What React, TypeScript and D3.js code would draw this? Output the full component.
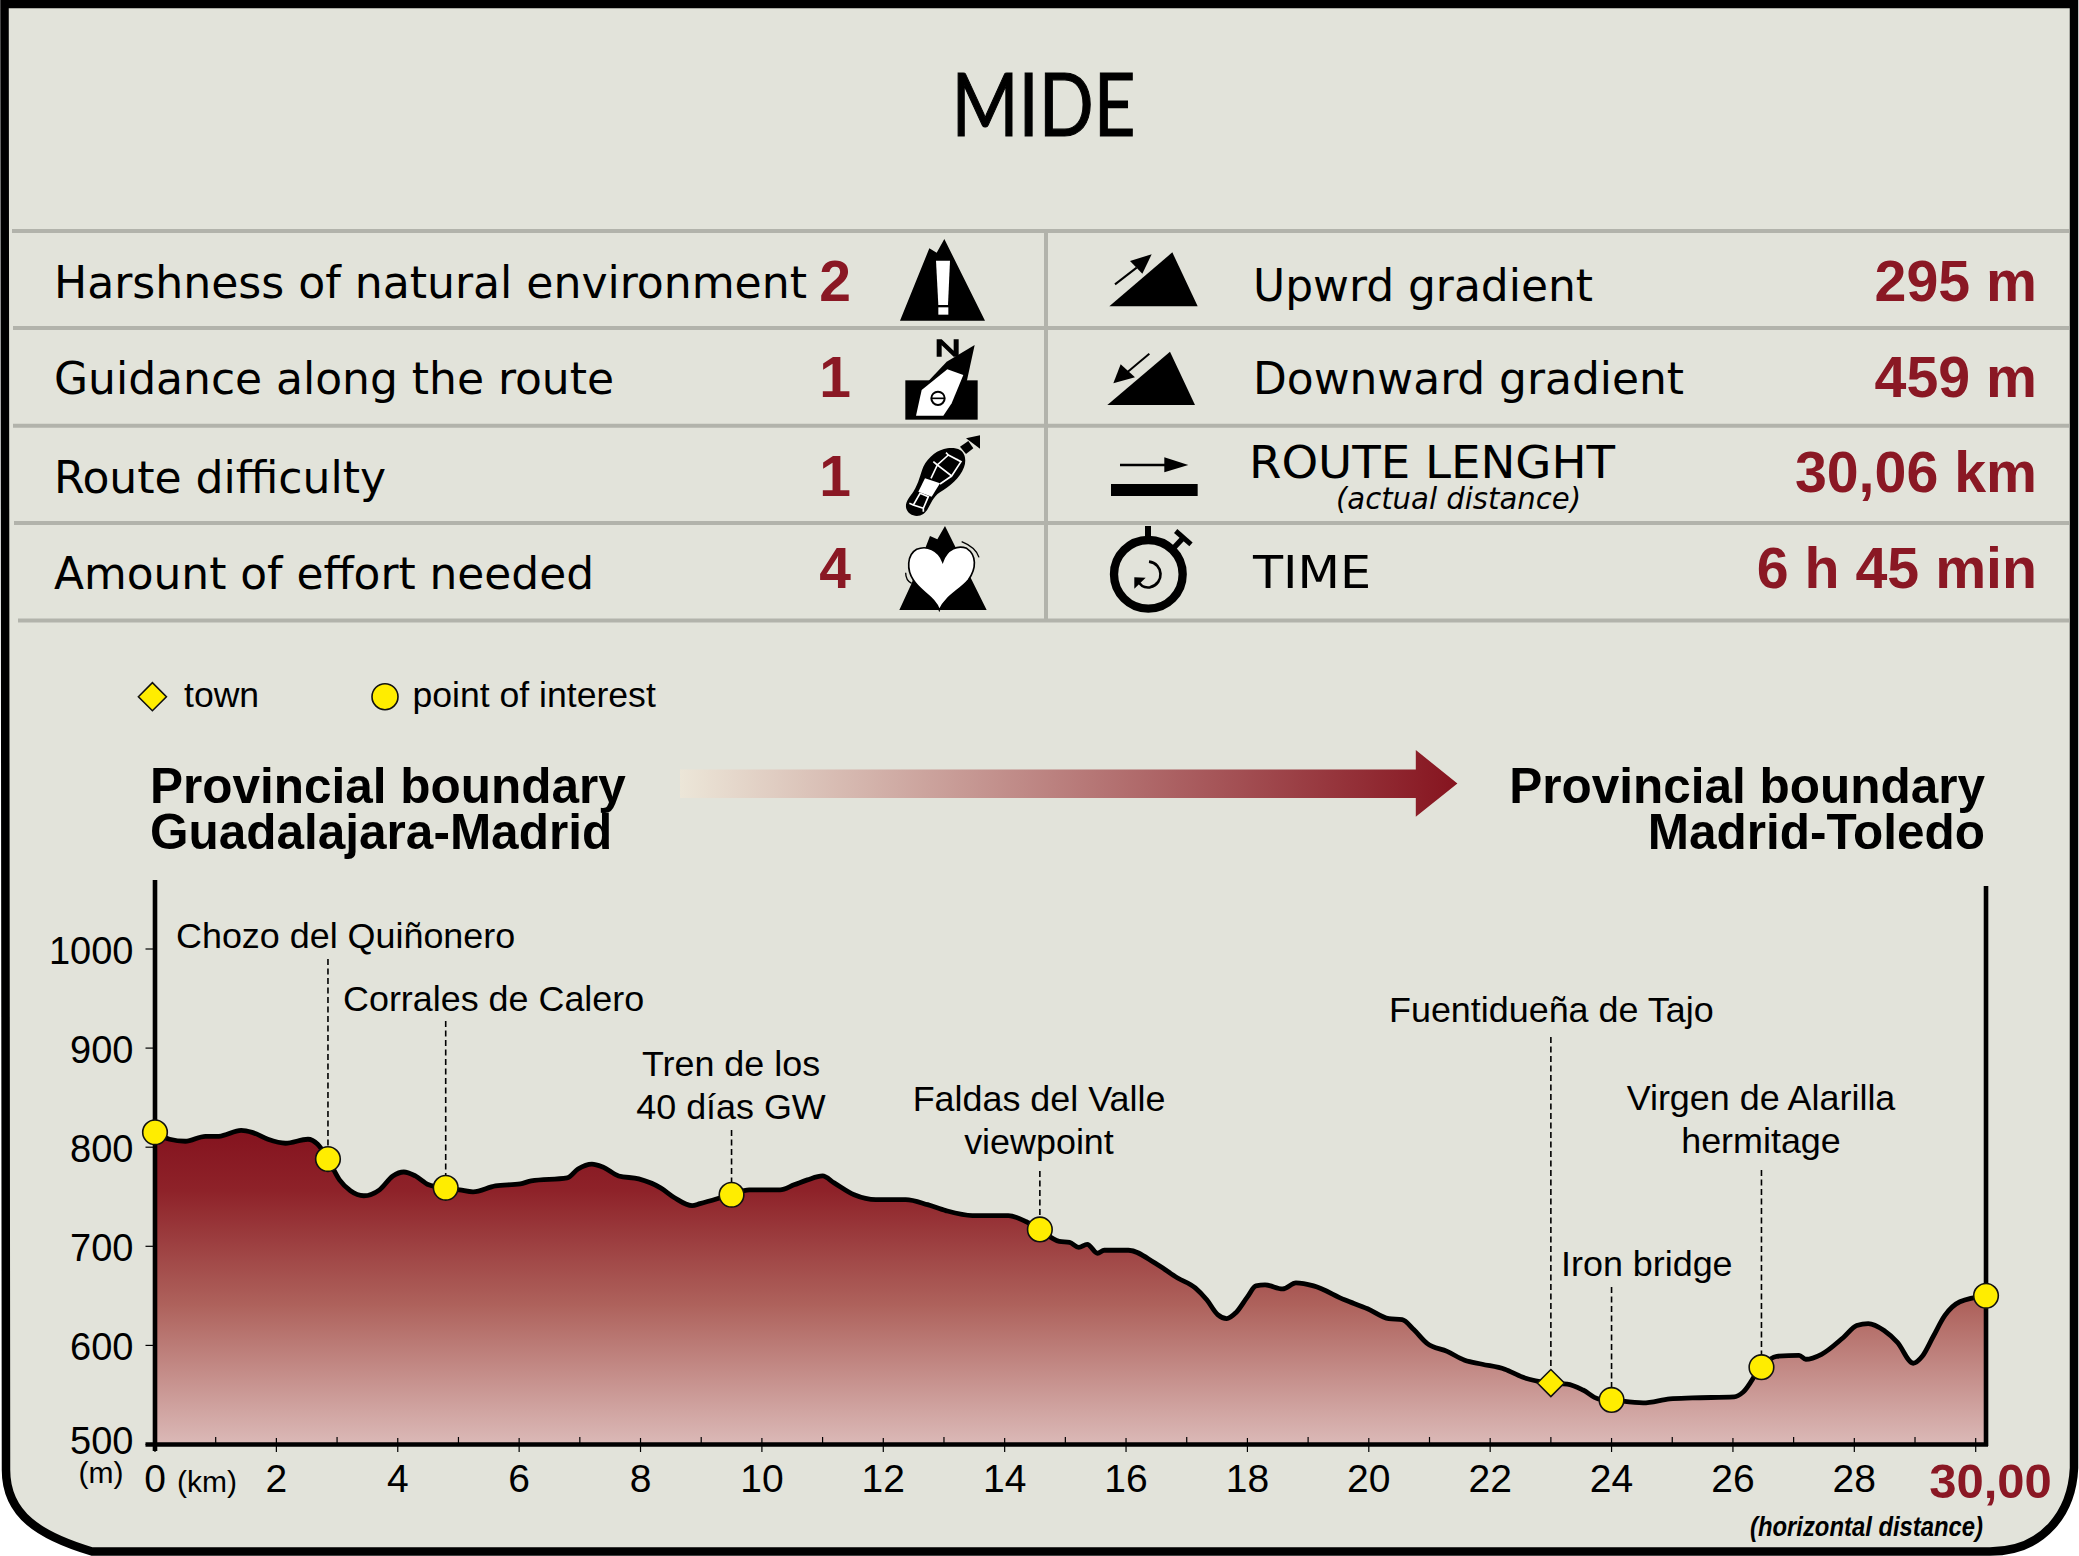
import React from 'react';
import * as d3 from 'd3';

const WIDTH = 2079;
const HEIGHT = 1556;

// Elevation profile
const profileKm = [0, 0.24, 0.5, 0.83, 1.05, 1.42, 1.6, 1.86, 2.15, 2.52, 2.68, 2.85, 3.04, 3.22, 3.44, 3.7, 3.92, 4.1, 4.29, 4.51, 4.78, 5.02, 5.24, 5.61, 6.02, 6.2, 6.79, 6.97, 7.2, 7.38, 7.64, 7.97, 8.33, 8.56, 8.85, 8.98, 9.49, 9.79, 10.3, 10.53, 10.75, 11.0, 11.19, 11.52, 11.88, 12.37, 12.73, 13.03, 13.47, 14.06, 14.35, 14.57, 14.9, 15.07, 15.22, 15.36, 15.53, 15.64, 16.04, 16.48, 16.85, 17.14, 17.33, 17.51, 17.66, 17.81, 18.0, 18.14, 18.29, 18.58, 18.8, 19.09, 19.6, 19.98, 20.33, 20.55, 20.74, 20.96, 21.29, 21.58, 21.87, 22.24, 22.53, 23.0, 23.27, 23.53, 23.78, 23.99, 24.52, 24.96, 25.33, 26.02, 26.17, 26.46, 26.72, 27.09, 27.2, 27.46, 27.82, 28.04, 28.23, 28.49, 28.71, 28.97, 29.12, 29.3, 29.49, 29.74, 30.17];
const profileElev = [815, 808, 806, 811, 811, 817, 815, 808, 804, 808, 803, 788, 767, 756, 751, 757, 771, 775, 771, 762, 759, 757, 755, 761, 763, 766, 769, 778, 783, 780, 771, 768, 759, 749, 741, 743, 752, 757, 757, 762, 767, 771, 764, 752, 747, 747, 742, 736, 731, 731, 725, 717, 705, 704, 699, 702, 693, 696, 696, 683, 668, 658, 646, 631, 627, 633, 649, 660, 661, 657, 663, 660, 646, 637, 627, 626, 616, 602, 594, 585, 581, 576, 568, 562, 561, 555, 546, 545, 542, 546, 547, 548, 553, 578, 589, 590, 586, 591, 608, 620, 622, 615, 603, 582, 589, 609, 630, 644, 650];

const markerKm = [0, 2.85, 4.79, 9.5, 14.58, 23, 24, 26.47, 30.17];
const markerElev = [815, 788, 759, 752, 717, 562, 545, 578, 650];
const markerType = ['poi', 'poi', 'poi', 'poi', 'poi', 'town', 'poi', 'poi', 'poi'];

const yTickValues = [500, 600, 700, 800, 900, 1000];
const xLabelValues = [0, 2, 4, 6, 8, 10, 12, 14, 16, 18, 20, 22, 24, 26, 28];
const xMinorValues = [1, 3, 5, 7, 9, 11, 13, 15, 17, 19, 21, 23, 25, 27, 29];
const xMajorValues = [0, 2, 4, 6, 8, 10, 12, 14, 16, 18, 20, 22, 24, 26, 28, 30];

const leftLabels = ['Harshness of natural environment', 'Guidance along the route', 'Route difficulty', 'Amount of effort needed'];
const leftScores = ['2', '1', '1', '4'];
const rightLabels = ['Upwrd gradient', 'Downward gradient', 'ROUTE LENGHT', 'TIME'];
const rightValues = ['295 m', '459 m', '30,06 km', '6 h 45 min'];

const RED = '#8a1824';
const BG = '#e2e3da';
const YELLOW = '#ffed00';
const RULE = '#b2b3ab';
const ARIAL = '"Liberation Sans", Arial, sans-serif';
const TAHOMA = '"DejaVu Sans Condensed", "DejaVu Sans", sans-serif';

const x = d3.scaleLinear().domain([0, 30]).range([155, 1975.7]);
const y = d3.scaleLinear().domain([500, 1000]).range([1444.5, 949]);

const profile = profileKm.map((km, i) => [km, profileElev[i]] as [number, number]);
const line = d3.line<[number, number]>().x(d => x(d[0])).y(d => y(d[1])).curve(d3.curveMonotoneX);
const area = d3.area<[number, number]>().x(d => x(d[0])).y0(y(500)).y1(d => y(d[1])).curve(d3.curveMonotoneX);

// Callouts: text lines, anchor, and top of the dashed leader
const callouts = [
  { lines: ['Chozo del Quiñonero'], tx: 176, ty: 948, anchor: 'start', km: 2.85, elev: 788, top: 959 },
  { lines: ['Corrales de Calero'], tx: 343, ty: 1011, anchor: 'start', km: 4.79, elev: 759, top: 1021 },
  { lines: ['Tren de los', '40 días GW'], tx: 731, ty: 1076, anchor: 'middle', km: 9.5, elev: 752, top: 1130 },
  { lines: ['Faldas del Valle', 'viewpoint'], tx: 1039, ty: 1111, anchor: 'middle', km: 14.58, elev: 717, top: 1171 },
  { lines: ['Fuentidueña de Tajo'], tx: 1389, ty: 1022, anchor: 'start', km: 23, elev: 562, top: 1037 },
  { lines: ['Iron bridge'], tx: 1561, ty: 1276, anchor: 'start', km: 24, elev: 545, top: 1287 },
  { lines: ['Virgen de Alarilla', 'hermitage'], tx: 1761, ty: 1110, anchor: 'middle', km: 26.47, elev: 578, top: 1170 },
];

const leftRows = [
  { base: 298.3, len: 753, score: 301 },
  { base: 394.3, len: 560, score: 397 },
  { base: 493.3, len: 332, score: 496 },
  { base: 589.3, len: 540, score: 588 },
];
const rightRows = [
  { base: 301, len: 340, val: 301, lx: 1253 },
  { base: 394.3, len: 431, val: 397, lx: 1253 },
  { base: 478.3, len: 366, val: 492, lx: 1249 },
  { base: 588.3, len: 118, val: 588, lx: 1253 },
];
const ruleY = [231, 328, 425.7, 523, 620.4];
const ruleX0 = [12, 13, 13, 14, 18];

const Diamond = ({ cx, cy, size }: { cx: number; cy: number; size: number }) => (
  <path d={`M${cx - size},${cy}L${cx},${cy - size}L${cx + size},${cy}L${cx},${cy + size}Z`} fill={YELLOW} stroke="#111" strokeWidth={1.6} />
);

const App: React.FC = () => {
  return (
    <svg width={WIDTH} height={HEIGHT} viewBox={`0 0 ${WIDTH} ${HEIGHT}`} style={{ position: 'absolute', left: 0, top: 0, display: 'block' }}>
      <defs>
        <linearGradient id="relief" gradientUnits="userSpaceOnUse" x1={0} y1={1135} x2={0} y2={1444}>
          <stop offset="0%" stopColor="#85141f" />
          <stop offset="18%" stopColor="#8e2229" />
          <stop offset="55%" stopColor="#ae625c" />
          <stop offset="100%" stopColor="#dbb9b7" />
        </linearGradient>
        <linearGradient id="arrowFade" gradientUnits="userSpaceOnUse" x1={680} y1={0} x2={1457} y2={0}>
          <stop offset="0%" stopColor="#ece6d8" />
          <stop offset="100%" stopColor="#86141f" />
        </linearGradient>
      </defs>

      <rect width={WIDTH} height={HEIGHT} fill="#fff" />
      <path
        d="M4.5,4H2074V1468C2072,1512 2044,1551.5 1990,1551.5H92C40,1536 6,1515 6,1470Z"
        fill={BG}
        stroke="#000"
        strokeWidth={8.5}
      />

      <text x={1043.5} y={136} textAnchor="middle" fontFamily="Lato, sans-serif" fontSize={88} textLength={184} lengthAdjust="spacingAndGlyphs" fill="#000" stroke="#000" strokeWidth={1.2}>MIDE</text>

      {/* table rules */}
      {ruleY.map((ry, i) => (
        <line key={ry} x1={ruleX0[i]} x2={2069} y1={ry} y2={ry} stroke={RULE} strokeWidth={4} />
      ))}
      <line x1={1046} x2={1046} y1={231} y2={620} stroke={RULE} strokeWidth={4} />

      {leftLabels.map((t, i) => (
        <text key={t} x={54} y={leftRows[i].base} fontFamily={TAHOMA} fontSize={44} textLength={leftRows[i].len} lengthAdjust="spacingAndGlyphs" fill="#000">{t}</text>
      ))}
      {leftScores.map((t, i) => (
        <text key={i} x={835} y={leftRows[i].score} textAnchor="middle" fontFamily={ARIAL} fontWeight="bold" fontSize={57} fill={RED}>{t}</text>
      ))}
      {rightLabels.map((t, i) => (
        <text key={t} x={rightRows[i].lx} y={rightRows[i].base} fontFamily={TAHOMA} fontSize={44} textLength={rightRows[i].len} lengthAdjust="spacingAndGlyphs" fill="#000">{t}</text>
      ))}
      <text x={1336} y={509} fontFamily={TAHOMA} fontStyle="italic" fontSize={30} textLength={245} lengthAdjust="spacingAndGlyphs" fill="#000">(actual distance)</text>
      {rightValues.map((t, i) => (
        <text key={t} x={2037} y={rightRows[i].val} textAnchor="end" fontFamily={ARIAL} fontWeight="bold" fontSize={57.3} fill={RED}>{t}</text>
      ))}

      {/* icons, left column */}
      <g transform="translate(860,230) scale(0.33333)">
        <path d="M120,272L208,55L230,68L253,27L375,272Z" fill="#000" />
        <path d="M228,92H270L264,225H235Z" fill="#fff" />
        <rect x={235} y={232} width={30} height={22} fill="#fff" />

        <rect x={136} y={451} width={217} height={118} fill="#000" />
        <path d="M344,345L260,395L180,480L320,455Z" fill="#000" />
        <path d="M262,418L310,435L275,520L250,557H168L185,480Z" fill="#fff" />
        <circle cx={234} cy={505} r={20} fill="none" stroke="#000" strokeWidth={6} />
        <path d="M214,505H254" stroke="#000" strokeWidth={5} />
        <path d="M230,380V328H245L281,362V328H296V380H281L245,346V380Z" fill="#000" />

        <path d="M262,655C235,658 205,680 190,710C180,735 178,755 160,785C148,802 136,815 138,832C142,855 170,865 190,852C210,838 212,805 240,787C268,770 300,745 312,712C320,690 315,668 300,660C290,654 275,653 262,655Z" fill="#000" />
        <path d="M195,745L240,760L215,800L175,785Z" fill="#fff" />
        <path d="M265,675L232,705L275,738L303,695ZM232,705L213,745M275,738L240,762M265,675L258,668M303,695L290,688M232,705L220,695M180,790L160,825L190,835L205,800ZM160,825L148,820M190,835L190,845" fill="none" stroke="#fff" strokeWidth={5} />
        <path d="M300,650L325,633L340,655L318,672Z" fill="#000" />
        <path d="M318,625L360,616V656Z" fill="#000" />

        <path d="M118,1140L155,1060L210,918L232,928L255,888L380,1140Z" fill="#000" />
        <path d="M248,995C235,960 200,945 170,958C140,975 140,1020 160,1050C180,1085 225,1100 238,1140C255,1100 300,1080 325,1050C350,1015 350,975 320,955C295,945 262,955 248,995Z" fill="#fff" stroke="#000" strokeWidth={5} />
        <path d="M305,935C330,945 350,960 357,982M137,1028C137,1045 145,1055 155,1060" fill="none" stroke="#000" strokeWidth={4} />
      </g>

      {/* icons, right column */}
      <g transform="translate(1080,230) scale(0.33333)">
        <path d="M88,229L277,67L353,229Z" fill="#000" />
        <path d="M105,163L170,113" stroke="#000" strokeWidth={6} />
        <path d="M215,73L150,93L187,131Z" fill="#000" />

        <path d="M82,525L270,365L345,525Z" fill="#000" />
        <path d="M208,371L140,428" stroke="#000" strokeWidth={6} />
        <path d="M100,460L122,403L165,442Z" fill="#000" />

        <path d="M120,705H260" stroke="#000" strokeWidth={7} />
        <path d="M253,682L325,705L253,727Z" fill="#000" />
        <rect x={93} y={762} width={260} height={36} fill="#000" />

        <circle cx={205} cy={1033} r={103} fill="none" stroke="#000" strokeWidth={25} />
        <rect x={195} y={888} width={18} height={35} fill="#000" />
        <path d="M280,955L308,925" stroke="#000" strokeWidth={16} />
        <path d="M287,903L333,943" stroke="#000" strokeWidth={15} />
        <path d="M207,995C250,1000 255,1060 210,1072C190,1075 178,1062 172,1050" fill="none" stroke="#000" strokeWidth={8} />
        <path d="M163,1076V1042L197,1043Z" fill="#000" />
      </g>

      {/* legend */}
      <Diamond cx={152.4} cy={696.7} size={14} />
      <text x={184} y={707.3} fontFamily={ARIAL} fontSize={35.6} fill="#000">town</text>
      <circle cx={385} cy={696.7} r={13} fill={YELLOW} stroke="#111" strokeWidth={1.6} />
      <text x={412.5} y={707.3} fontFamily={ARIAL} fontSize={35.6} fill="#000">point of interest</text>

      {/* route ends and direction */}
      <text x={150} y={802.7} fontFamily={ARIAL} fontWeight="bold" fontSize={49.5} fill="#000">Provincial boundary</text>
      <text x={150} y={849} fontFamily={ARIAL} fontWeight="bold" fontSize={49.5} fill="#000">Guadalajara-Madrid</text>
      <text x={1985} y={802.7} textAnchor="end" fontFamily={ARIAL} fontWeight="bold" fontSize={49.5} fill="#000">Provincial boundary</text>
      <text x={1985} y={849} textAnchor="end" fontFamily={ARIAL} fontWeight="bold" fontSize={49.5} fill="#000">Madrid-Toledo</text>
      <path d="M680,769.5H1415.8V750L1457.4,783.5L1415.8,816.7V798H680Z" fill="url(#arrowFade)" />

      {/* profile */}
      <path d={area(profile) ?? ''} fill="url(#relief)" />
      <path d={line(profile) ?? ''} fill="none" stroke="#000" strokeWidth={4.8} strokeLinejoin="round" />

      {/* axes */}
      <line x1={155} x2={155} y1={880} y2={1451} stroke="#000" strokeWidth={4.6} />
      <line x1={x(30.17)} x2={x(30.17)} y1={886} y2={1446} stroke="#000" strokeWidth={4.6} />
      <line x1={145.5} x2={x(30.17) + 2} y1={1444.5} y2={1444.5} stroke="#000" strokeWidth={4.6} />
      {yTickValues.map(v => (
        <g key={v}>
          <line x1={145.5} x2={155} y1={y(v)} y2={y(v)} stroke="#000" strokeWidth={1.2} />
          <text x={133.5} y={v === 500 ? 1454 : y(v) + 14.5} textAnchor="end" fontFamily={ARIAL} fontSize={38} fill="#000">{v}</text>
        </g>
      ))}
      {xMajorValues.map(v => (
        <line key={v} x1={x(v)} x2={x(v)} y1={1438} y2={1452} stroke="#000" strokeWidth={1.2} />
      ))}
      {xMinorValues.map(v => (
        <line key={v} x1={x(v)} x2={x(v)} y1={1437} y2={1445} stroke="#000" strokeWidth={1.2} />
      ))}
      {xLabelValues.map(v => (
        <text key={v} x={x(v)} y={1491.5} textAnchor="middle" fontFamily={ARIAL} fontSize={39} fill="#000">{v}</text>
      ))}
      <text x={101} y={1483} textAnchor="middle" fontFamily={ARIAL} fontSize={30} fill="#000">(m)</text>
      <text x={177} y={1492} fontFamily={ARIAL} fontSize={30} fill="#000">(km)</text>
      <text x={1990.5} y={1498} textAnchor="middle" fontFamily={ARIAL} fontWeight="bold" fontSize={49} fill={RED}>30,00</text>
      <text x={1750} y={1536} fontFamily={ARIAL} fontWeight="bold" fontStyle="italic" fontSize={27} textLength={233} lengthAdjust="spacingAndGlyphs" fill="#000">(horizontal distance)</text>

      {/* callouts */}
      {callouts.map(c => (
        <g key={c.lines[0]}>
          <line x1={x(c.km)} x2={x(c.km)} y1={c.top} y2={y(c.elev) - 10} stroke="#000" strokeWidth={1.6} strokeDasharray="6 3.5" />
          {c.lines.map((t, i) => (
            <text key={t} x={c.tx} y={c.ty + i * 43} textAnchor={c.anchor as 'start' | 'middle'} fontFamily={ARIAL} fontSize={35.9} fill="#000">{t}</text>
          ))}
        </g>
      ))}

      {/* markers */}
      {markerKm.map((km, i) =>
        markerType[i] === 'town'
          ? <Diamond key={km} cx={x(km)} cy={y(markerElev[i])} size={13.5} />
          : <circle key={km} cx={x(km)} cy={y(markerElev[i])} r={12.3} fill={YELLOW} stroke="#111" strokeWidth={1.6} />
      )}
    </svg>
  );
};

export default App;
